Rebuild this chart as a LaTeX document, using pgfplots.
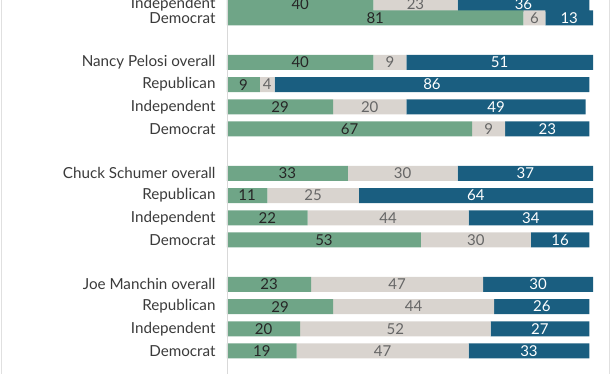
\documentclass[border=0pt]{standalone}
\usepackage{fontspec}
\setmainfont{Lato}
\usepackage{pgfplots}
\usepackage{pgfplotstable}
\pgfplotsset{compat=1.18}
\definecolor{cg}{HTML}{6FA587}
\definecolor{cn}{HTML}{D9D4CF}
\definecolor{cb}{HTML}{1A5E80}
\definecolor{lab}{HTML}{3A3A3A}
\pgfplotstableread{
y g n b
-4.2 40 23 36
-18 81 6 13
-62.4 40 9 51
-84.6 9 4 86
-106.8 29 20 49
-129 67 9 23
-173.4 33 30 37
-195.6 11 25 64
-217.8 22 44 34
-240 53 30 16
-284.4 23 47 30
-306.6 29 44 26
-328.8 20 52 27
-351 19 47 33
}\datatab
\begin{document}
\begin{tikzpicture}
\begin{axis}[
  at={(0pt,0pt)}, anchor=south west,
  scale only axis, width=366pt, height=374pt,
  xmin=0, xmax=100, ymin=-374, ymax=0,
  xbar stacked, bar width=15pt,
  axis line style={draw=none},
  xtick=\empty,
  ytick={-4.2,-18,-62.4,-84.6,-106.8,-129,-173.4,-195.6,-217.8,-240,-284.4,-306.6,-328.8,-351},
  yticklabels={Independent,Democrat,Nancy Pelosi overall,Republican,Independent,Democrat,Chuck Schumer overall,Republican,Independent,Democrat,Joe Manchin overall,Republican,Independent,Democrat},
  major tick length=0pt,
  yticklabel style={font=\fontsize{15.2}{17}\selectfont, text=lab, xshift=-8pt},
  clip=false,
]
\addplot[fill=cg, draw=none] table[x=g, y=y]{\datatab};
\addplot[fill=cn, draw=none] table[x=n, y=y]{\datatab};
\addplot[fill=cb, draw=none] table[x=b, y=y]{\datatab};
\end{axis}
\begin{axis}[
  at={(0pt,0pt)}, anchor=south west,
  scale only axis, width=366pt, height=374pt,
  xmin=0, xmax=100, ymin=-374, ymax=0,
  hide axis, clip=false,
  /pgf/number format/assume math mode=true,
  nodes near coords,
  point meta=explicit,
  every node near coord/.style={anchor=center, font=\fontsize{15}{17}\selectfont},
]
\addplot[draw=none, mark=none, every node near coord/.append style={text=black!85}] table[x expr=\thisrow{g}/2, y=y, meta=g]{\datatab};
\addplot[draw=none, mark=none, every node near coord/.append style={text=black!60}] table[x expr=\thisrow{g}+\thisrow{n}/2, y=y, meta=n]{\datatab};
\addplot[draw=none, mark=none, every node near coord/.append style={text=white}] table[x expr=\thisrow{g}+\thisrow{n}+\thisrow{b}/2, y=y, meta=b]{\datatab};
\end{axis}
\draw[black!15, line width=0.8pt] (0pt,0pt) -- (0pt,374pt);
\draw[black!12, line width=1pt] (-225.5pt,0pt) -- (-225.5pt,374pt);
\draw[black!12, line width=1pt] (382pt,0pt) -- (382pt,374pt);
\pgfresetboundingbox
\useasboundingbox (-227pt,0pt) rectangle (385pt,374pt);
\end{tikzpicture}
\end{document}
